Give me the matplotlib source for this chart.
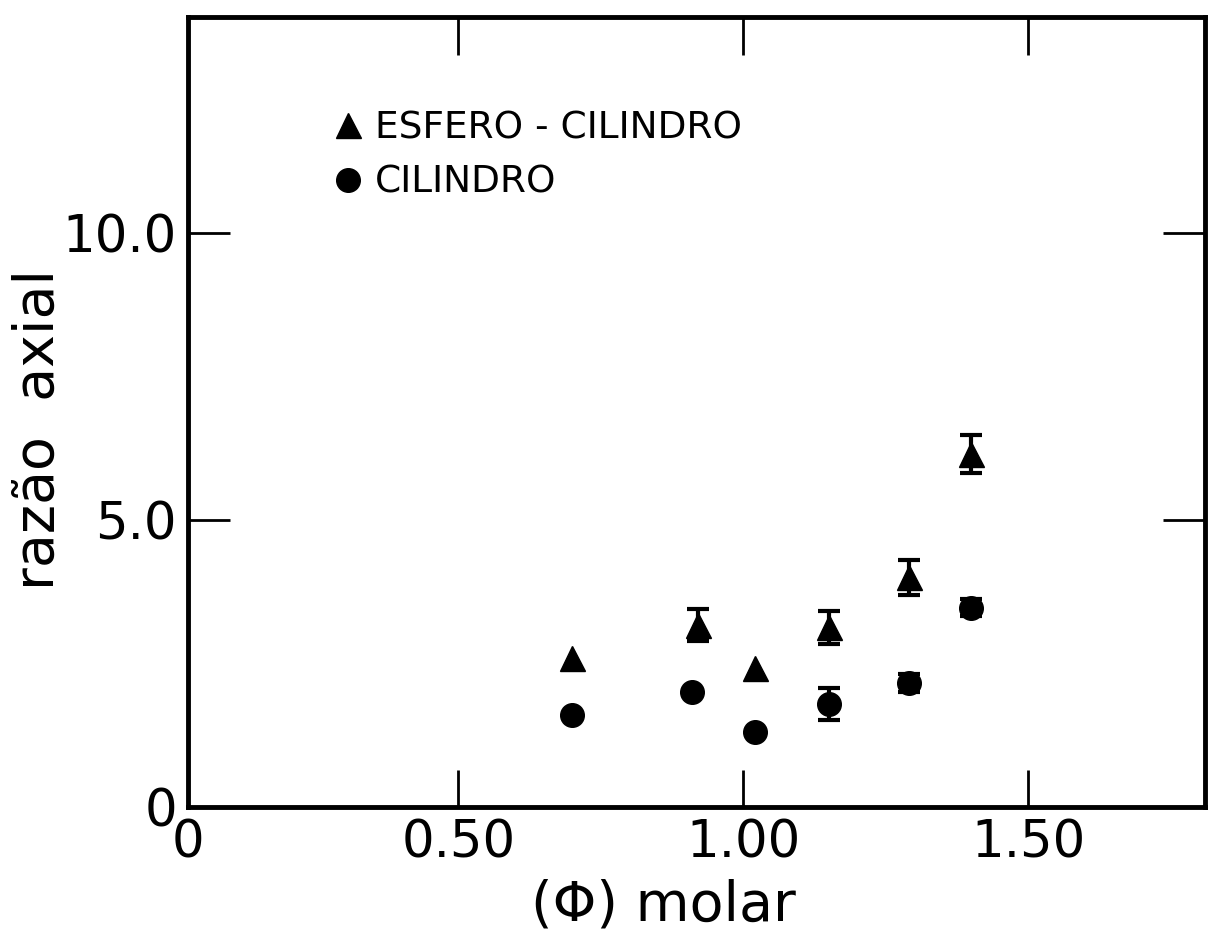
import matplotlib
matplotlib.use('Agg')
import matplotlib.pyplot as plt
from matplotlib.lines import Line2D

# razao axial vs fracao molar
phi_esfero = [0.70, 0.92, 1.02, 1.15, 1.29, 1.40]
razao_esfero = [2.60, 3.17, 2.42, 3.13, 4.00, 6.15]
erro_esfero = [0.0, 0.28, 0.0, 0.29, 0.30, 0.33]

phi_cil = [0.70, 0.91, 1.02, 1.15, 1.29, 1.40]
razao_cil = [1.60, 2.00, 1.31, 1.79, 2.16, 3.47]
erro_cil = [0.0, 0.0, 0.0, 0.28, 0.15, 0.15]

xticks = [0.5, 1.0, 1.5]
xticklabels = ['0.50', '1.00', '1.50']
yticks = [0, 5, 10]
yticklabels = ['0', '5.0', '10.0']

plt.rcParams['font.family'] = ['DejaVu Sans']

fig = plt.figure(figsize=(12.08, 9.40), dpi=100)
ax = fig.add_axes([188 / 1208, 1 - 807 / 940, (1205 - 188) / 1208, (807 - 17) / 940])


def pontos(x, y, err, marker, ms):
    ax.plot(x, y, marker, color='black', ms=ms, zorder=3)
    # error bars only where there is one
    xs = [a for a, e in zip(x, err) if e > 0]
    ys = [b for b, e in zip(y, err) if e > 0]
    es = [e for e in err if e > 0]
    ax.errorbar(xs, ys, yerr=es, fmt='none', ecolor='black',
                elinewidth=3, capsize=8, capthick=3, zorder=2)


pontos(phi_esfero, razao_esfero, erro_esfero, '^', 18)
pontos(phi_cil, razao_cil, erro_cil, 'o', 17)

ax.set_xlim(0.026, 1.81)
ax.set_ylim(0, 13.76)

for s in ax.spines.values():
    s.set_linewidth(3.5)

ax.set_xticks(xticks)
ax.set_xticklabels(xticklabels)
ax.set_yticks(yticks)
ax.set_yticklabels(yticklabels)
ax.tick_params(direction='in', length=30, width=2, labelsize=37, pad=8,
               top=True, right=True)
ax.tick_params(axis='x', top=True, length=27)
# the "0" on the x axis sits at the corner
ax.text(0, -0.014, '0', transform=ax.transAxes, ha='center', va='top', fontsize=37)

fig.text(39 / 1208, 1 - 430 / 940, 'razão  axial', rotation=90, ha='center', va='center',
         fontsize=40)
fig.text(663 / 1208, 1 - 906 / 940, '(Φ) molar', ha='center', va='center', fontsize=40)

handles = [Line2D([], [], ls='none', marker='^', ms=18, color='black'),
           Line2D([], [], ls='none', marker='o', ms=17, color='black')]
ax.legend(handles, ['ESFERO - CILINDRO', 'CILINDRO'], loc='upper left',
          bbox_to_anchor=(0.143, 0.882), frameon=False, fontsize=27,
          handlelength=0.8, handletextpad=0.3, borderpad=0,
          labelspacing=0.5, borderaxespad=0)

fig.savefig('out.png', dpi=100)
